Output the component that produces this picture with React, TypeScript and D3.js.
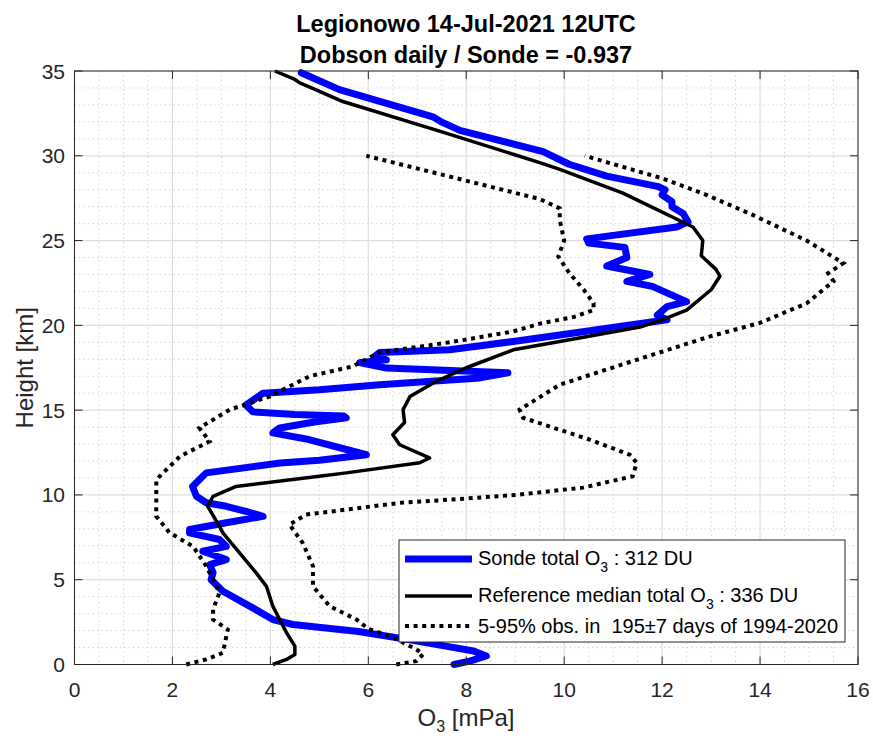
import React from "react";
import * as d3 from "d3";

// ---------- data ----------
const xTicks = [0, 2, 4, 6, 8, 10, 12, 14, 16];
const yTicks = [0, 5, 10, 15, 20, 25, 30, 35];

const sondeO3 = [7.75, 8.07, 8.41, 8.15, 7.55, 6.85, 5.8, 4.46, 4.05, 3.64, 3.03, 2.79, 2.83, 2.76, 3.1, 2.62, 3.1, 2.96, 2.35, 2.35, 3.1, 3.85, 3.5, 3.1, 2.69, 2.49, 2.41, 2.69, 4.2, 5.0, 5.96, 4.73, 4.05, 4.19, 4.9, 5.55, 5.5, 4.5, 3.64, 3.5, 3.85, 5.0, 6.23, 8.28, 8.85, 6.37, 5.82, 6.37, 6.13, 6.23, 7.66, 8.96, 10.2, 12.1, 11.9, 12.1, 12.5, 11.8, 11.28, 11.75, 10.87, 11.28, 11.24, 10.5, 10.46, 12.3, 12.53, 12.43, 12.2, 12.2, 12.0, 12.06, 11.9, 10.87, 10.1, 9.57, 7.87, 7.49, 7.32, 5.41, 4.63];
const sondeHeight = [0.0, 0.2, 0.5, 0.8, 1.1, 1.45, 1.95, 2.36, 2.65, 3.34, 4.32, 5.0, 5.42, 5.89, 6.19, 6.68, 6.97, 7.37, 7.76, 7.96, 8.36, 8.74, 9.03, 9.33, 9.54, 9.92, 10.5, 11.3, 11.88, 12.05, 12.37, 13.3, 13.66, 13.95, 14.3, 14.55, 14.65, 14.75, 14.9, 15.3, 16.0, 16.2, 16.5, 16.9, 17.2, 17.48, 17.8, 17.97, 18.17, 18.4, 18.56, 19.05, 19.55, 20.33, 20.6, 21.1, 21.4, 22.3, 22.6, 23.0, 23.5, 24.0, 24.6, 24.85, 25.1, 25.8, 26.1, 26.6, 27.0, 27.3, 27.7, 28.0, 28.2, 28.8, 29.5, 30.25, 31.5, 32.0, 32.3, 33.9, 34.9];

const medianO3 = [4.05, 4.33, 4.5, 4.5, 4.33, 4.05, 3.92, 3.71, 3.37, 3.03, 2.96, 2.72, 2.83, 3.3, 5.0, 5.55, 7.05, 7.25, 6.64, 6.5, 6.74, 6.71, 6.85, 7.39, 8.0, 8.96, 9.91, 11.55, 12.0, 12.5, 13.0, 13.18, 13.1, 12.8, 12.83, 12.63, 11.2, 9.91, 9.5, 7.52, 5.48, 4.84, 4.6, 4.5, 4.09];
const medianHeight = [0.0, 0.3, 0.59, 1.08, 1.87, 3.44, 4.61, 5.4, 6.58, 7.76, 8.15, 9.33, 9.92, 10.5, 11.1, 11.3, 11.9, 12.18, 12.96, 13.55, 14.27, 15.03, 15.8, 16.7, 17.5, 18.56, 19.05, 19.9, 20.33, 20.9, 22.1, 22.9, 23.3, 24.1, 25.0, 25.8, 27.8, 29.2, 29.6, 31.4, 33.2, 34.0, 34.3, 34.5, 35.0];

const p5O3 = [2.28, 2.69, 3.03, 3.13, 2.83, 2.83, 2.96, 2.69, 2.42, 1.94, 1.67, 1.67, 1.67, 2.15, 2.76, 2.55, 3.17, 3.98, 4.8, 5.68, 6.23, 7.66, 8.96, 9.5, 10.2, 10.6, 10.6, 10.4, 10.1, 9.88, 10.0, 9.91, 9.91, 9.5, 5.96];
const p5Height = [0.0, 0.3, 0.69, 2.06, 2.65, 3.24, 4.23, 5.8, 6.97, 7.77, 8.74, 9.33, 10.9, 12.27, 13.16, 13.95, 15.03, 15.8, 17.0, 17.58, 18.4, 19.0, 19.64, 20.1, 20.5, 20.9, 21.3, 22.1, 23.1, 24.06, 25.0, 26.2, 26.9, 27.45, 30.0];

const p95O3 = [6.57, 6.98, 7.12, 6.98, 6.5, 6.0, 5.76, 5.21, 4.87, 4.87, 4.66, 4.39, 4.73, 6.64, 7.66, 9.02, 10.38, 11.4, 11.48, 11.34, 10.52, 9.16, 9.09, 9.91, 11.48, 12.98, 14.0, 14.95, 15.5, 15.39, 15.7, 14.95, 13.86, 12.9, 11.99, 10.42];
const p95Height = [0.0, 0.2, 0.6, 0.9, 1.6, 2.1, 2.65, 3.44, 4.61, 5.8, 7.17, 8.25, 8.84, 9.53, 9.72, 10.0, 10.43, 11.1, 11.9, 12.37, 13.26, 14.55, 15.03, 16.5, 17.97, 19.35, 20.15, 21.3, 22.6, 23.08, 23.67, 25.0, 26.5, 27.7, 28.68, 30.0];

const titleLines = ["Legionowo 14-Jul-2021 12UTC", "Dobson daily / Sonde = -0.937"];

// ---------- layout ----------
const W = 873, H = 738;
const L = 74.5, R = 858, T = 71, B = 664.5;
const FONT = "'Liberation Sans', Arial, Helvetica, sans-serif";
const AX = "#262626";

export default function App() {
  const x = d3.scaleLinear().domain([0, 16]).range([L, R]);
  const y = d3.scaleLinear().domain([0, 35]).range([B, T]);

  const mk = (vals: number[], hs: number[]) => vals.map((v, i) => [v, hs[i]] as [number, number]);
  const line = d3.line<[number, number]>().x(d => x(d[0])).y(d => y(d[1]));

  const xMinor = d3.range(0, 16.01, 0.5).filter(v => v % 2 !== 0);
  const yMinor = d3.range(0, 35.01, 1).filter(v => v % 5 !== 0);

  const dotted = "4 4.6";

  return (
    <div style={{ position: "fixed", left: 0, top: 0 }}>
      <svg width={W} height={H} style={{ display: "block", background: "#fff" }} fontFamily={FONT}>
        <rect x={0} y={0} width={W} height={H} fill="#fff" />
        {/* minor grid */}
        {xMinor.map(v => (
          <line key={"xm" + v} x1={x(v)} x2={x(v)} y1={T} y2={B} stroke="#d6d6d6" strokeWidth={1} strokeDasharray="1.5 3" />
        ))}
        {yMinor.map(v => (
          <line key={"ym" + v} x1={L} x2={R} y1={y(v)} y2={y(v)} stroke="#d6d6d6" strokeWidth={1} strokeDasharray="1.5 3" />
        ))}
        {/* major grid */}
        {xTicks.map(v => (
          <line key={"xg" + v} x1={x(v)} x2={x(v)} y1={T} y2={B} stroke="#dedede" strokeWidth={1.2} />
        ))}
        {yTicks.map(v => (
          <line key={"yg" + v} x1={L} x2={R} y1={y(v)} y2={y(v)} stroke="#dedede" strokeWidth={1.2} />
        ))}

        {/* data */}
        <path d={line(mk(sondeO3, sondeHeight)) || ""} fill="none" stroke="#0000ff" strokeWidth={7} strokeLinejoin="round" strokeLinecap="round" />
        <path d={line(mk(medianO3, medianHeight)) || ""} fill="none" stroke="#000" strokeWidth={3.5} strokeLinejoin="round" />
        <path d={line(mk(p5O3, p5Height)) || ""} fill="none" stroke="#000" strokeWidth={4} strokeDasharray={dotted} />
        <path d={line(mk(p95O3, p95Height)) || ""} fill="none" stroke="#000" strokeWidth={4} strokeDasharray={dotted} />

        {/* axes box */}
        <rect x={L} y={T} width={R - L} height={B - T} fill="none" stroke={AX} strokeWidth={1} />
        {xTicks.map(v => (
          <g key={"xt" + v}>
            <line x1={x(v)} x2={x(v)} y1={B} y2={B - 8} stroke={AX} />
            <line x1={x(v)} x2={x(v)} y1={T} y2={T + 8} stroke={AX} />
            <text x={x(v)} y={697} textAnchor="middle" fontSize={21} fill={AX}>{v}</text>
          </g>
        ))}
        {yTicks.map(v => (
          <g key={"yt" + v}>
            <line x1={L} x2={L + 8} y1={y(v)} y2={y(v)} stroke={AX} />
            <line x1={R} x2={R - 8} y1={y(v)} y2={y(v)} stroke={AX} />
            <text x={65} y={y(v) + 7.5} textAnchor="end" fontSize={21} fill={AX}>{v}</text>
          </g>
        ))}

        {/* axis labels */}
        <text x={466} y={726} textAnchor="middle" fontSize={24} fill={AX}>
          O<tspan fontSize={16} dy={6}>3</tspan><tspan dy={-6}> [mPa]</tspan>
        </text>
        <text transform={`translate(33,${(T + B) / 2}) rotate(-90)`} textAnchor="middle" fontSize={24} fill={AX}>Height [km]</text>

        {/* title */}
        <text x={466} y={32} textAnchor="middle" fontSize={23.5} fontWeight="bold" fill="#000">{titleLines[0]}</text>
        <text x={466} y={63} textAnchor="middle" fontSize={23.5} fontWeight="bold" fill="#000">{titleLines[1]}</text>

        {/* legend */}
        <g>
          <rect x={399} y={540} width={446} height={102} fill="#fff" stroke={AX} strokeWidth={1} />
          <line x1={405} x2={472} y1={559} y2={559} stroke="#0000ff" strokeWidth={7} />
          <text x={478} y={565} fontSize={20} fill="#000">
            Sonde total O<tspan fontSize={14} dy={7}>3</tspan><tspan dy={-7}> : 312 DU</tspan>
          </text>
          <line x1={405} x2={472} y1={596} y2={596} stroke="#000" strokeWidth={3.5} />
          <text x={478} y={602} fontSize={20} fill="#000">
            Reference median total O<tspan fontSize={14} dy={7}>3</tspan><tspan dy={-7}> : 336 DU</tspan>
          </text>
          <line x1={405} x2={472} y1={626} y2={626} stroke="#000" strokeWidth={4} strokeDasharray={dotted} />
          <text x={478} y={633} fontSize={20} fill="#000" style={{ whiteSpace: "pre" }}>
            {"5-95% obs. in  195\u00b17 days of 1994-2020"}
          </text>
        </g>
      </svg>
    </div>
  );
}
